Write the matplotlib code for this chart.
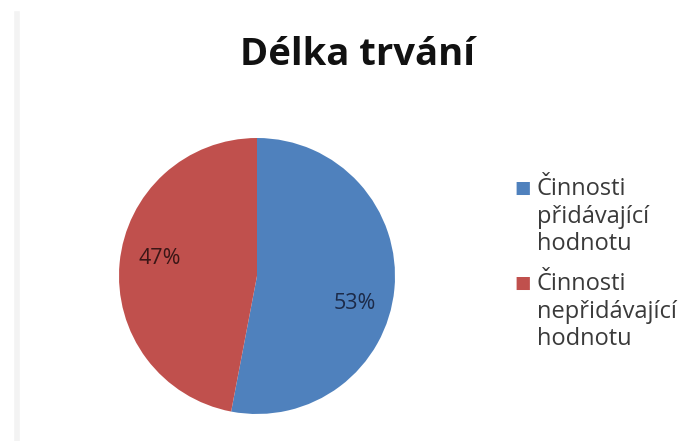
import matplotlib.pyplot as plt
from matplotlib.lines import Line2D

categories = ['Činnosti\npřidávající\nhodnotu', 'Činnosti\nnepřidávající\nhodnotu']
values = [53, 47]
colors = ['#4F81BD', '#C0504D']
pct_colors = ['#1c2a48', '#3a1616']

plt.rcParams['font.family'] = ['Open Sans', 'DejaVu Sans']

fig = plt.figure(figsize=(6.83, 4.41), dpi=100)
fig.patch.set_facecolor('white')

# faint chart-area border on the left
fig.add_artist(Line2D([17 / 683, 17 / 683], [0.0, 1 - 14 / 441],
                      transform=fig.transFigure, color='#f3f3f3', lw=4))

ax = fig.add_axes([118 / 683, 27 / 441, 278 / 683, 276 / 441])
wedges, texts, autotexts = ax.pie(
    values,
    colors=colors,
    startangle=90,
    counterclock=False,
    autopct='%1.0f%%',
    pctdistance=0.71,
    textprops={'fontsize': 15.5},
)
# Excel "best fit" puts the labels a bit off the wedge centre line
for t, c, dy in zip(autotexts, pct_colors, [-0.13, 0.06]):
    t.set_color(c)
    x, y = t.get_position()
    t.set_position((x, y + dy))
ax.set_xlim(-1, 1)
ax.set_ylim(-1, 1)

fig.text(357 / 683, 1 - 55 / 441, 'Délka trvání', ha='center', va='center',
         fontsize=27.5, fontweight='bold', color='#111111')

# legend drawn by hand so the marker sits on the first line
leg_y = [1 - 177 / 441, 1 - 272 / 441]
for lab, col, y in zip(categories, colors, leg_y):
    fig.text(523 / 683, y - 11 / 441, '■', ha='center', va='center',
             fontsize=12.5, color=col, family='DejaVu Sans')
    fig.text(537 / 683, y, lab, ha='left', va='top', fontsize=17,
             color='#3a3a3a', linespacing=1.2)

plt.savefig('out.png', dpi=100)
